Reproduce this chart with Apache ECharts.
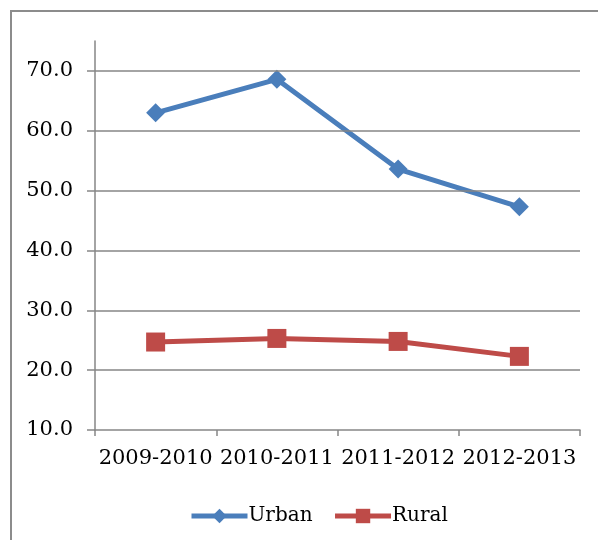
<!DOCTYPE html>
<html><head><meta charset="utf-8">
<script src="https://cdn.jsdelivr.net/npm/echarts@6/dist/echarts.min.js"></script>
<style>
html,body{margin:0;padding:0;background:#fff;}
#frame{position:absolute;left:10px;top:10px;width:600px;height:540px;border:2px solid #8c8c8c;box-sizing:border-box;}
#c{position:absolute;left:0;top:0;width:598px;height:540px;}
</style></head>
<body>
<div id="frame"></div>
<div id="c"></div>
<script>
var categories = ['2009-2010','2010-2011','2011-2012','2012-2013'];
var urban = [63.0, 68.6, 53.6, 47.3];
var rural = [24.7, 25.3, 24.8, 22.3];
var yTicks = [10,20,30,40,50,60,70];

var chart = echarts.init(document.getElementById('c'));
var font = 'DejaVu Serif';
chart.setOption({
  animation:false,
  textStyle:{fontFamily:font},
  grid:{left:95,right:18,top:41,bottom:110},
  legend:{
    left:184, top:501, itemWidth:56, itemHeight:18, itemGap:20,
    lineStyle:{width:5},
    textStyle:{fontFamily:font,fontSize:20,color:'#000',padding:[0,0,0,-4]},
    data:['Urban','Rural']
  },
  xAxis:{
    type:'category', data:categories, boundaryGap:true,
    axisLine:{lineStyle:{color:'#868686',width:1.5}},
    axisTick:{show:true,length:6,lineStyle:{color:'#868686',width:1.5}},
    axisLabel:{fontFamily:font,fontSize:21,color:'#000',margin:18,interval:0}
  },
  yAxis:{
    type:'value', min:10, max:75, interval:10,
    axisLine:{show:true,lineStyle:{color:'#868686',width:1.5}},
    axisTick:{show:true,length:8,lineStyle:{color:'#868686',width:1.5},customValues:yTicks},
    axisLabel:{fontFamily:font,fontSize:21,color:'#000',margin:22,customValues:yTicks,
      formatter:function(v){return v.toFixed(1);}},
    splitLine:{show:false}
  },
  series:[
    {name:'Urban',type:'line',data:urban,symbol:'diamond',symbolSize:19,
     lineStyle:{color:'#4a7ebb',width:5},itemStyle:{color:'#4a7ebb'},
     markLine:{silent:true,symbol:'none',label:{show:false},
       lineStyle:{color:'#868686',width:1.5,type:'solid'},
       data:yTicks.slice(1).map(function(v){return {yAxis:v};})}},
    {name:'Rural',type:'line',data:rural,symbol:'rect',symbolSize:19,
     lineStyle:{color:'#be4b48',width:5},itemStyle:{color:'#be4b48'}}
  ]
});
</script>
</body></html>
